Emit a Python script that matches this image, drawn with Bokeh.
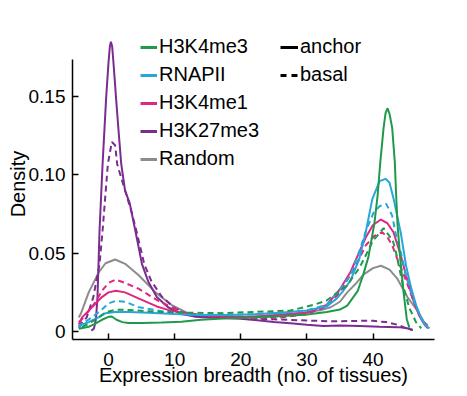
from bokeh.plotting import figure
from bokeh.models import Range1d, FixedTicker, CustomJSTickFormatter, Legend, LegendItem
from bokeh.embed import file_html
from bokeh.resources import INLINE

# ---------------- data ----------------
x_ticks = [0, 10, 20, 30, 40]
y_ticks = [0, 0.05, 0.10, 0.15]

series_names = ["H3K4me3", "RNAPII", "H3K4me1", "H3K27me3", "Random"]
series_colors = ["#1f9a4c", "#27a6dc", "#e0267e", "#7a2c8f", "#8c8c8c"]
style_names = ["anchor", "basal"]

# H3K4me3 anchor / basal
k4me3_anchor_x = [-4.5, -3, -2, -1, 0, 0.5, 1.2, 2.1, 3, 5, 8, 11, 14, 18, 22, 26, 30, 33, 35, 36.1, 37.7, 38.5,
                  39.3, 40.2, 40.7, 41.1, 41.6, 41.9, 42.2, 42.5, 42.9, 43.3, 43.5, 43.7, 44.1, 44.6, 45.1, 45.5]
k4me3_anchor_y = [0.0017, 0.003, 0.005, 0.0075, 0.0094, 0.0096, 0.0075, 0.006, 0.0055, 0.0054, 0.0057, 0.0063,
                  0.0075, 0.0085, 0.009, 0.0098, 0.0108, 0.0125, 0.014, 0.0165, 0.026, 0.036, 0.0475, 0.0688,
                  0.087, 0.108, 0.130, 0.1395, 0.1426, 0.139, 0.130, 0.108, 0.087, 0.0688, 0.0475, 0.026, 0.008,
                  0.0024]
k4me3_basal_x = [-4, -3, -1.5, -0.45, 1, 2.5, 4, 6, 8, 12, 17.4, 22, 27.5, 31, 33, 34, 36, 38, 40, 41.6, 43,
                 43.5, 44.5, 45.5, 46.5, 47.3]
k4me3_basal_y = [0.003, 0.005, 0.009, 0.0123, 0.0138, 0.0139, 0.0135, 0.013, 0.0125, 0.012, 0.0117, 0.0125,
                 0.0134, 0.017, 0.0198, 0.023, 0.029, 0.041, 0.058, 0.066, 0.058, 0.05, 0.03, 0.015, 0.006, 0.002]

# RNAPII anchor / basal
rnapii_anchor_x = [-4.5, -3, -1.5, -0.45, 1, 3, 6, 10, 14, 18, 22, 26, 30, 33, 34.5, 35.5, 36.6, 37.9, 38.9,
                   39.9, 41, 41.9, 42.5, 43.1, 44.2, 45, 45.7, 46.5, 47.3, 48]
rnapii_anchor_y = [0.0038, 0.006, 0.009, 0.0117, 0.0125, 0.0125, 0.012, 0.0112, 0.0105, 0.0105, 0.011, 0.012,
                   0.0135, 0.016, 0.021, 0.026, 0.0326, 0.046, 0.0634, 0.0847, 0.096, 0.0975, 0.095, 0.085,
                   0.063, 0.042, 0.029, 0.017, 0.008, 0.003]
rnapii_basal_x = [-4.5, -4, -2.5, -1, 0, 1.06, 2.5, 4.6, 7.3, 11.2, 14, 18, 22, 26, 30, 33, 35, 36.6, 38, 38.9,
                  40.1, 41, 42, 42.9, 43.4, 44.2, 45, 46, 47, 47.8, 48.5]
rnapii_basal_y = [0.002, 0.005, 0.009, 0.014, 0.018, 0.0195, 0.019, 0.0155, 0.0135, 0.011, 0.0105, 0.0105,
                  0.011, 0.012, 0.0135, 0.017, 0.027, 0.036, 0.052, 0.064, 0.076, 0.080, 0.0815, 0.074, 0.063,
                  0.0506, 0.036, 0.022, 0.011, 0.005, 0.002]

# H3K4me1 anchor / basal
k4me1_anchor_x = [-4.5, -4, -2.5, -1, 0, 1.1, 2.5, 4.6, 7.3, 9, 11.2, 14, 18, 22, 26, 30, 33, 35, 36.6, 37.9,
                  38.9, 40, 41.2, 42.2, 43.1, 44.2, 45, 46, 47, 47.7, 48.3]
k4me1_anchor_y = [0.0045, 0.009, 0.0155, 0.022, 0.025, 0.026, 0.025, 0.021, 0.016, 0.0138, 0.012, 0.0105,
                  0.0095, 0.0095, 0.0105, 0.012, 0.017, 0.027, 0.038, 0.0506, 0.060, 0.068, 0.0715, 0.069,
                  0.0634, 0.0485, 0.0358, 0.021, 0.010, 0.005, 0.002]
k4me1_basal_x = [-4.5, -4, -3, -2, -1, 0, 1.06, 2.5, 4.6, 7.6, 11.2, 14.2, 18, 22, 26, 30, 33, 35, 37.4, 38.9,
                 40.2, 41.4, 42.2, 42.9, 43.9, 45, 46, 47, 47.8, 48.5]
k4me1_basal_y = [0.006, 0.008, 0.013, 0.0187, 0.026, 0.031, 0.0332, 0.031, 0.0272, 0.0194, 0.0123, 0.0102,
                 0.009, 0.0085, 0.009, 0.011, 0.016, 0.025, 0.042, 0.055, 0.061, 0.0634, 0.060, 0.055, 0.044,
                 0.0326, 0.021, 0.011, 0.005, 0.002]

# H3K27me3 anchor / basal
k27me3_anchor_x = [-2.6, -2.2, -1.9, -1.67, -1.36, -0.9, -0.35, 0, 0.2, 0.36, 0.55, 0.76, 1.12, 1.52, 1.92,
                   2.5, 3.2, 4.05, 5.06, 6, 7.3, 9, 10.9, 13, 16, 20, 22.5, 25, 27.5, 30, 32.5, 35, 38, 41, 43.7,
                   45, 46]
k27me3_anchor_y = [0.0005, 0.002, 0.008, 0.022, 0.0645, 0.107, 0.150, 0.172, 0.182, 0.185, 0.182, 0.171,
                   0.150, 0.128, 0.107, 0.090, 0.082, 0.0645, 0.043, 0.032, 0.022, 0.0155, 0.0113, 0.0095,
                   0.0088, 0.0082, 0.0072, 0.006, 0.0052, 0.0043, 0.0035, 0.0038, 0.0035, 0.003, 0.0028,
                   0.0022, 0.001]
k27me3_basal_x = [-4.5, -4.2, -3.3, -2.3, -1.36, -0.9, -0.5, -0.1, 0.5, 1.0, 1.3, 2.0, 2.8, 3.5, 4.2, 5.4,
                  6.5, 8.1, 10, 11.6, 14, 17, 20, 25, 30, 34, 38, 40, 42, 44, 45, 46]
k27me3_basal_y = [0.003, 0.005, 0.009, 0.022, 0.043, 0.0645, 0.0858, 0.107, 0.121, 0.119, 0.107, 0.097,
                  0.086, 0.076, 0.0645, 0.043, 0.032, 0.022, 0.015, 0.0113, 0.0095, 0.009, 0.0085, 0.0078,
                  0.007, 0.0065, 0.0068, 0.0068, 0.006, 0.004, 0.002, 0.001]

# Random
random_x = [-4.5, -4.2, -3.0, -1.45, -0.45, 1.0, 2.6, 4.6, 7.1, 9.65, 12.2, 15, 18, 21, 25, 28, 30, 32, 33.6,
            35, 36.1, 37.5, 38.6, 40, 41.2, 42.5, 43.7, 45.2, 46.7, 47.7, 48.3]
random_y = [0.009, 0.0113, 0.025, 0.038, 0.0436, 0.046, 0.043, 0.0358, 0.025, 0.0166, 0.0113, 0.0095, 0.009,
            0.0092, 0.0105, 0.0115, 0.0125, 0.0135, 0.0155, 0.019, 0.025, 0.031, 0.0365, 0.0405, 0.042,
            0.0395, 0.0336, 0.022, 0.0134, 0.006, 0.004]

y_axis_min = -0.0051
y_axis_max = 0.1737

FONT = "Liberation Sans"
DASH = "6 4"

p = figure(width=467, height=396, output_backend="svg", toolbar_location=None,
           x_range=Range1d(-5.45, 49.3), y_range=Range1d(y_axis_min, 0.1935),
           min_border_left=72, min_border_right=33, min_border_top=28, min_border_bottom=57)
p.outline_line_color = None
p.grid.visible = False
p.background_fill_color = "white"
p.border_fill_color = "white"

# draw: basal (dashed) first, anchor (solid) on top
draw_order = [
    ("Random", random_x, random_y, None, None),
    ("H3K27me3", k27me3_anchor_x, k27me3_anchor_y, k27me3_basal_x, k27me3_basal_y),
    ("H3K4me1", k4me1_anchor_x, k4me1_anchor_y, k4me1_basal_x, k4me1_basal_y),
    ("RNAPII", rnapii_anchor_x, rnapii_anchor_y, rnapii_basal_x, rnapii_basal_y),
    ("H3K4me3", k4me3_anchor_x, k4me3_anchor_y, k4me3_basal_x, k4me3_basal_y),
]
color_of = dict(zip(series_names, series_colors))
for name, ax, ay, bx, by in draw_order:
    c = color_of[name]
    if bx is not None:
        p.line(bx, by, line_color=c, line_width=2, line_dash=DASH)
    p.line(ax, ay, line_color=c, line_width=2)

# axes
for ax in (p.xaxis[0], p.yaxis[0]):
    ax.axis_line_color = "black"
    ax.axis_line_width = 1.5
    ax.major_tick_line_color = "black"
    ax.major_tick_line_width = 1.5
    ax.major_tick_in = 6
    ax.major_tick_out = 0
    ax.minor_tick_line_color = None
    ax.major_label_text_font = FONT
    ax.major_label_text_font_size = "19px"
    ax.major_label_text_color = "black"
    ax.axis_label_text_font = FONT
    ax.axis_label_text_font_size = "20px"
    ax.axis_label_text_font_style = "normal"
    ax.axis_label_text_color = "black"

p.xaxis.ticker = FixedTicker(ticks=x_ticks)
p.xaxis.axis_label = "Expression breadth (no. of tissues)"
p.xaxis.major_label_standoff = 13
p.xaxis.axis_label_standoff = -5

p.yaxis.ticker = FixedTicker(ticks=y_ticks)
p.yaxis.bounds = (y_axis_min, y_axis_max)
p.yaxis.formatter = CustomJSTickFormatter(code="return tick == 0 ? '0' : tick.toFixed(2);")
p.yaxis.axis_label = "Density"
p.yaxis.major_label_standoff = 7
p.yaxis.axis_label_standoff = -3

def style_legend(lg):
    lg.border_line_color = None
    lg.background_fill_alpha = 0
    lg.padding = 0
    lg.margin = 0
    lg.spacing = 5
    lg.label_standoff = 2
    lg.glyph_height = 20
    lg.label_height = 20
    lg.label_text_font = FONT
    lg.label_text_font_size = "20px"
    lg.label_text_color = "black"

nan = float("nan")
# legend swatches (no visible data of their own)
swatches = [p.line(x=[nan], y=[nan], line_color=c, line_width=3) for c in series_colors]
legend1 = Legend(items=[LegendItem(label=n, renderers=[r]) for n, r in zip(series_names, swatches)],
                 location=(68, 169))
style_legend(legend1)
legend1.glyph_width = 17

r_anchor = p.line(x=[nan], y=[nan], line_color="black", line_width=3)
r_basal = p.line(x=[nan], y=[nan], line_color="black", line_width=3, line_dash="6 5")
legend2 = Legend(items=[LegendItem(label=style_names[0], renderers=[r_anchor]),
                        LegendItem(label=style_names[1], renderers=[r_basal])],
                 location=(208, 253))
style_legend(legend2)
legend2.glyph_width = 18

p.add_layout(legend1)
p.add_layout(legend2)

open("out.html", "w").write(file_html(p, INLINE))
